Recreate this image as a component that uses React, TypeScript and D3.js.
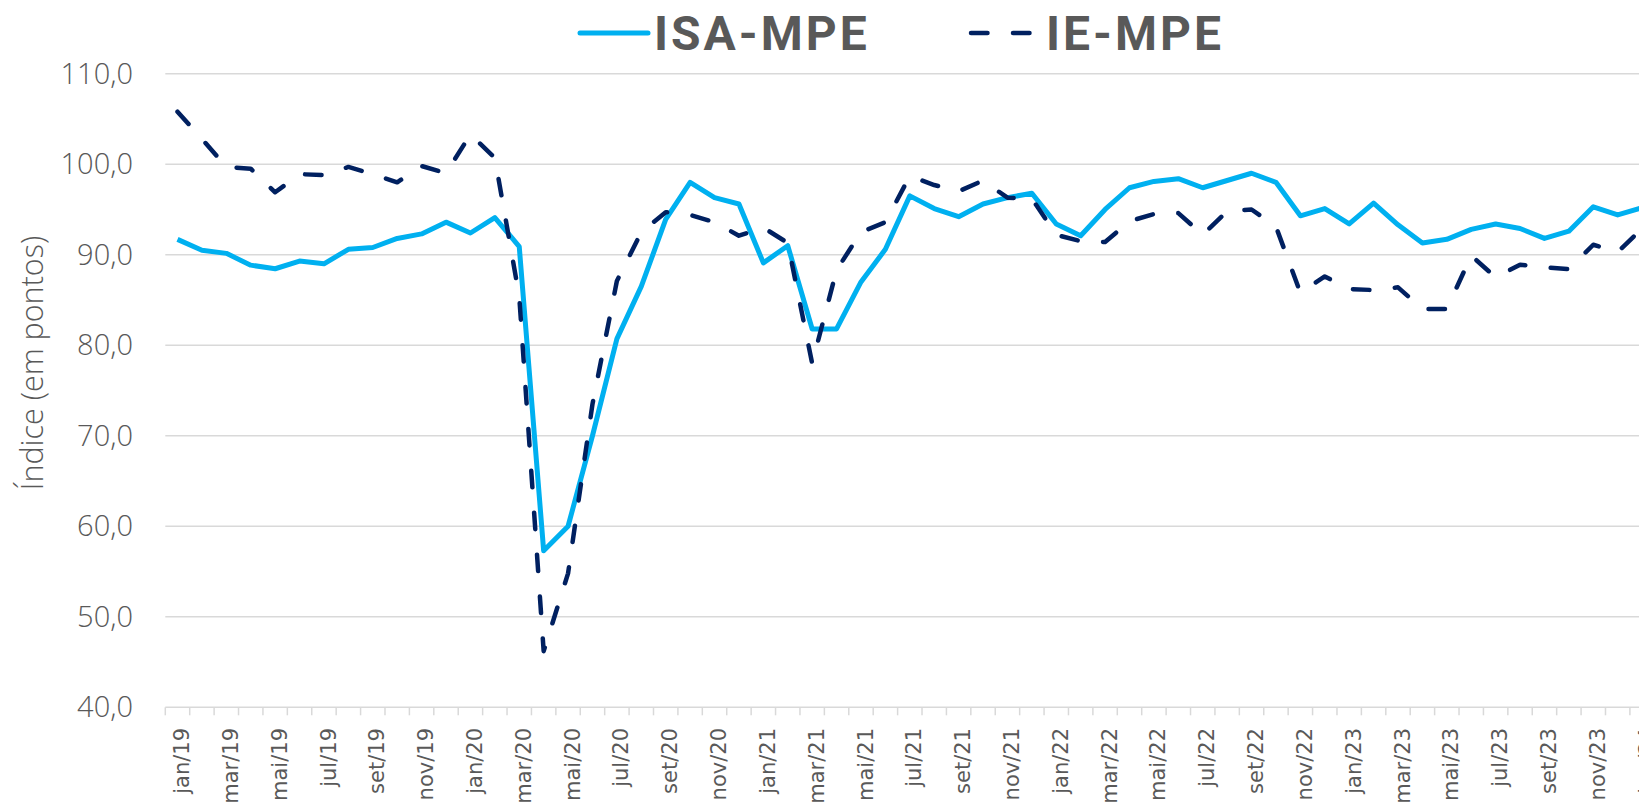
import * as React from "react"
import * as d3 from "d3"

const months = ["jan", "fev", "mar", "abr", "mai", "jun", "jul", "ago", "set", "out", "nov", "dez"]
const years = ["19", "20", "21", "22", "23", "24"]

const categories = years
  .flatMap((y) => months.map((m) => `${m}/${y}`))
  .slice(0, 61)

const isaMpe = [
  91.7, 90.5, 90.15, 88.85, 88.45, 89.3, 89.0, 90.6, 90.8, 91.8, 92.3, 93.6,
  92.4, 94.1, 90.9, 57.3, 60.0, 70.0, 80.7, 86.5, 93.9, 98.0, 96.3, 95.6,
  89.1, 91.0, 81.8, 81.8, 87.0, 90.6, 96.5, 95.1, 94.2, 95.6, 96.3, 96.8,
  93.4, 92.1, 95.0, 97.4, 98.1, 98.4, 97.4, 98.2, 99.0, 98.0, 94.3, 95.1,
  93.4, 95.7, 93.3, 91.3, 91.7, 92.8, 93.4, 92.9, 91.8, 92.6, 95.3, 94.4,
  95.2,
]

const ieMpe = [
  105.8, 102.8, 99.7, 99.5, 96.9, 98.9, 98.8, 99.7, 98.9, 98.0, 99.8, 99.0,
  103.3, 100.7, 85.4, 46.2, 54.8, 73.5, 87.1, 92.5, 94.7, 94.4, 93.6, 92.1,
  93.0, 91.3, 78.0, 88.3, 92.5, 93.6, 98.7, 97.7, 97.0, 98.2, 96.3, 96.2,
  92.2, 91.5, 91.4, 93.7, 94.5, 94.6, 92.2, 94.8, 95.0, 93.1, 85.8, 87.6,
  86.2, 86.1, 86.4, 84.0, 84.0, 89.9, 87.5, 88.9, 88.6, 88.4, 91.1, 90.3,
  92.9,
]

const yTicks = [40, 50, 60, 70, 80, 90, 100, 110]

const WIDTH = 1639
const HEIGHT = 805
const plotLeft = 165.3
const step = 24.41

const ISA_COLOR = "#00B0F0"
const IE_COLOR = "#002060"
const GRID = "#D9D9D9"
const TEXT = "#595959"

export default function App() {
  const x = d3
    .scaleBand<string>()
    .domain(categories)
    .range([plotLeft, plotLeft + categories.length * step])
    .paddingInner(0)
    .paddingOuter(0)
  const y = d3.scaleLinear().domain([40, 110]).range([707.3, 73.7])

  const cx = (c: string) => (x(c) as number) + x.bandwidth() / 2

  const line = d3
    .line<number>()
    .x((_d, i) => cx(categories[i]))
    .y((d) => y(d))

  const axisEnd = plotLeft + categories.length * step

  return (
    <div style={{ position: "fixed", left: 0, top: 0, width: WIDTH, height: HEIGHT, background: "#fff" }}>
      <svg width={WIDTH} height={HEIGHT} style={{ display: "block" }}>
        <rect width={WIDTH} height={HEIGHT} fill="#fff" />

        {/* gridlines */}
        {yTicks.map((t) => (
          <line
            key={t}
            x1={plotLeft}
            x2={axisEnd}
            y1={y(t)}
            y2={y(t)}
            stroke={GRID}
            strokeWidth={1.5}
          />
        ))}

        {/* y tick labels */}
        {yTicks.map((t) => (
          <text
            key={"l" + t}
            x={133}
            y={y(t)}
            dy="0.35em"
            textAnchor="end"
            fontFamily="'Open Sans', sans-serif"
            fontWeight={300}
            fontSize={29}
            fill={TEXT}
          >
            {t.toFixed(1).replace(".", ",")}
          </text>
        ))}

        {/* x tick marks */}
        {categories.map((c) => (
          <line
            key={"t" + c}
            x1={x(c) as number}
            x2={x(c) as number}
            y1={y(40)}
            y2={y(40) + 8}
            stroke={GRID}
            strokeWidth={1.5}
          />
        ))}

        {/* x labels, every other month */}
        {categories.map((c, i) =>
          i % 2 === 0 ? (
            <text
              key={"x" + c}
              transform={`translate(${cx(c) + 4},${728}) rotate(-90)`}
              dy="0.36em"
              textAnchor="end"
              fontFamily="'DejaVu Sans', sans-serif"
              fontSize={21}
              fill={TEXT}
            >
              {c}
            </text>
          ) : null
        )}

        {/* axis title */}
        <text
          transform={`translate(43,363) rotate(-90)`}
          textAnchor="middle"
          fontFamily="'Open Sans', sans-serif"
          fontWeight={300}
          fontSize={30.5}
          fill={TEXT}
        >
          Índice (em pontos)
        </text>

        {/* series */}
        <path
          d={line(isaMpe) ?? ""}
          fill="none"
          stroke={ISA_COLOR}
          strokeWidth={5}
          strokeLinejoin="round"
        />
        <path
          d={line(ieMpe) ?? ""}
          fill="none"
          stroke={IE_COLOR}
          strokeWidth={4.5}
          strokeDasharray="16.5 25.5"
          strokeLinecap="round"
          strokeLinejoin="round"
        />

        {/* legend */}
        <line x1={580} x2={648} y1={33} y2={33} stroke={ISA_COLOR} strokeWidth={5} strokeLinecap="round" />
        <text
          x={654}
          y={33}
          dy="0.36em"
          fontFamily="Roboto, sans-serif"
          fontWeight={700}
          fontSize={48}
          letterSpacing={3}
          fill={TEXT}
        >
          ISA-MPE
        </text>
        <line
          x1={971}
          x2={1031}
          y1={33}
          y2={33}
          stroke={IE_COLOR}
          strokeWidth={4.5}
          strokeDasharray="16.5 25.5"
          strokeLinecap="round"
        />
        <text
          x={1046}
          y={33}
          dy="0.36em"
          fontFamily="Roboto, sans-serif"
          fontWeight={700}
          fontSize={48}
          letterSpacing={3}
          fill={TEXT}
        >
          IE-MPE
        </text>
      </svg>
    </div>
  )
}
